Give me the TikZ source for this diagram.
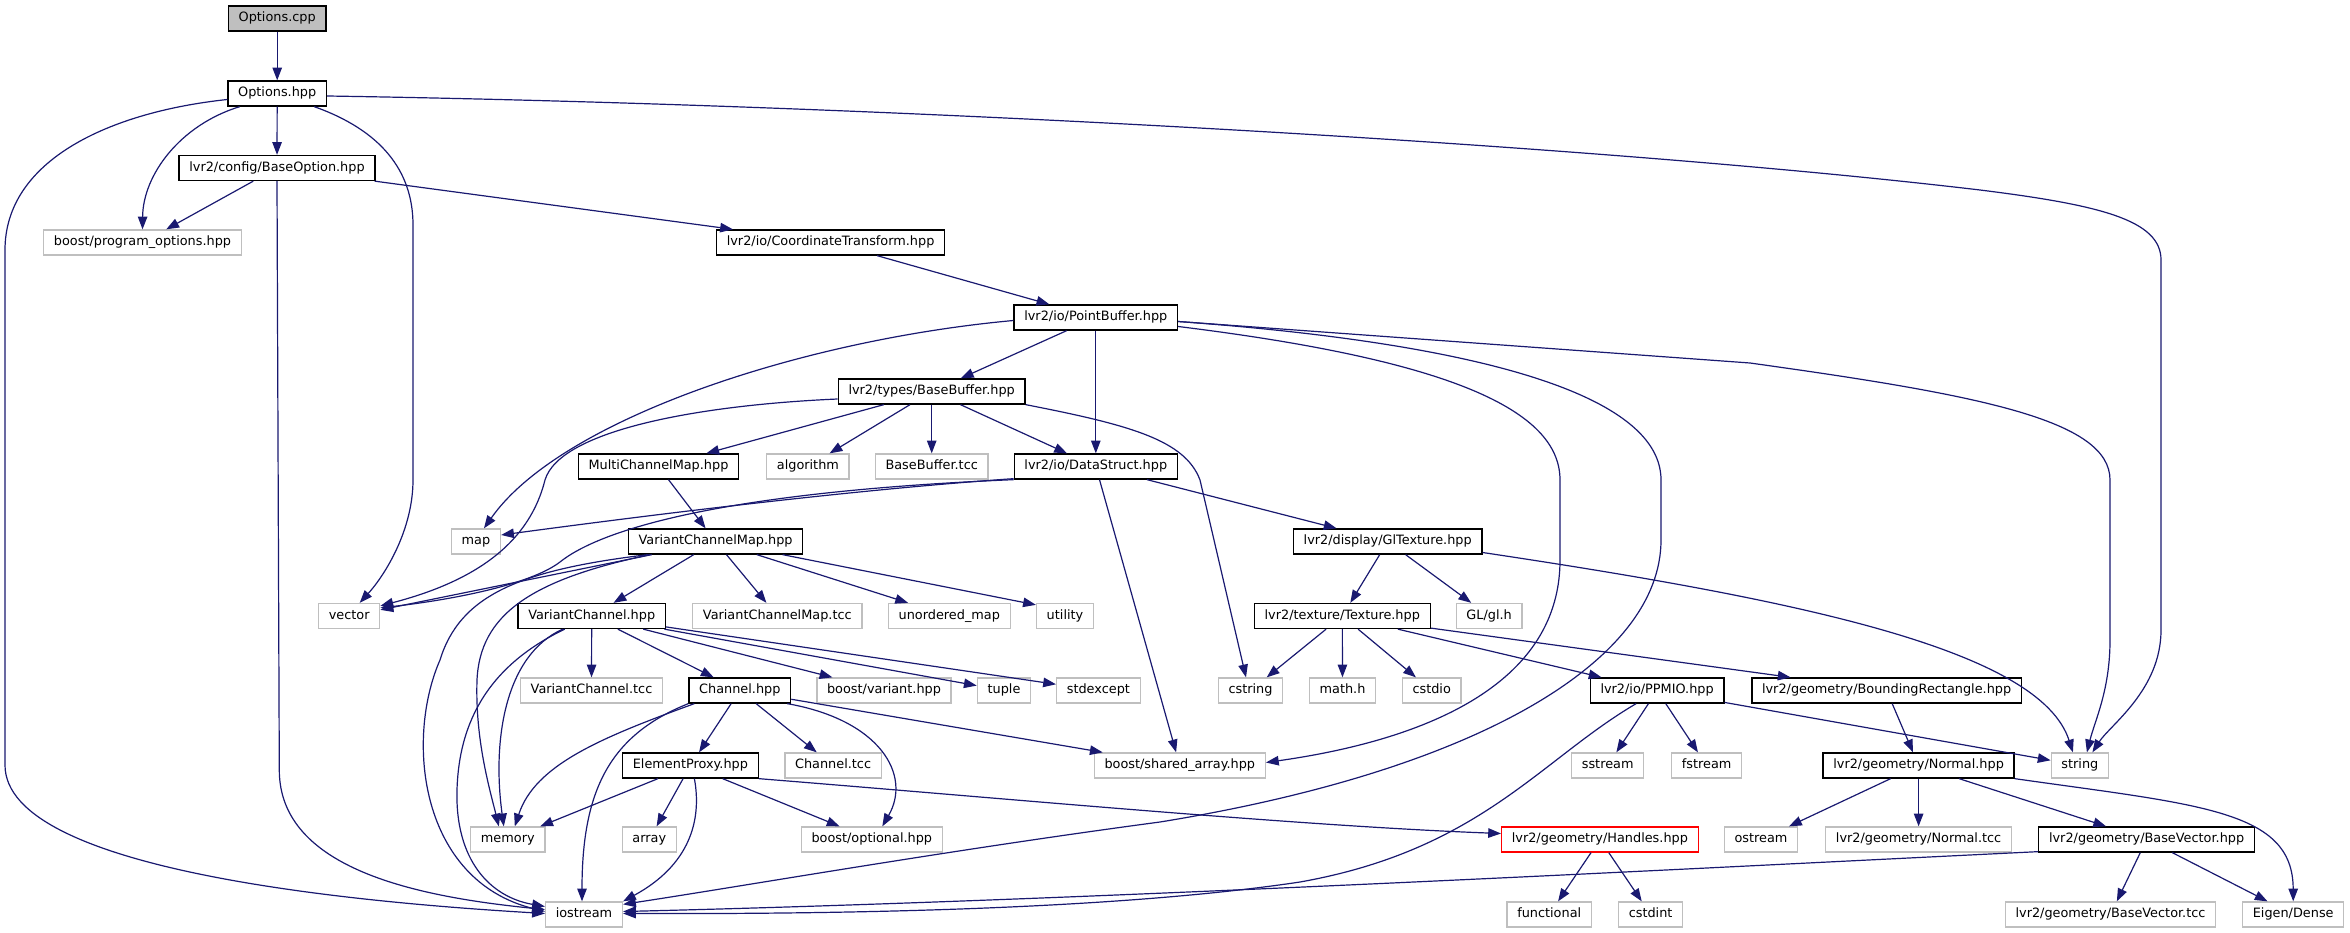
\documentclass[tikz,border=0pt]{standalone}
\usepackage{fontspec}
\setmainfont{DejaVu Sans}
\usetikzlibrary{arrows.meta,calc}
\definecolor{edgecol}{HTML}{191970}
\definecolor{greyb}{HTML}{BFBFBF}
\begin{document}
\begin{tikzpicture}[x=1pt,y=-1pt,
  box/.style={draw=black, fill=white, line width=1.3pt, minimum height=25pt, inner xsep=10.2pt, inner ysep=0pt, text height=9.4pt, text depth=2.6pt, font=\fontsize{12.85pt}{15pt}\selectfont},
  ext/.style={box, draw=greyb},
  rootbox/.style={box, fill=greyb},
  redbox/.style={box, draw=red},
  edge/.style={draw=edgecol, line width=1.2pt, -{Triangle[length=12.8pt,width=9.5pt]}}]
\useasboundingbox (0,0) rectangle (2350,933);
% nodes
\node[rootbox] (cpp) at (277.2,18.5) {Options.cpp};
\node[box] (hpp) at (277.2,93.5) {Options.hpp};
\node[box] (bo) at (277,168) {lvr2/config/BaseOption.hpp};
\node[ext] (po) at (142.5,242.5) {boost/program\_options.hpp};
\node[box] (ct) at (830.6,242.5) {lvr2/io/CoordinateTransform.hpp};
\node[box] (pb) at (1095.8,317.5) {lvr2/io/PointBuffer.hpp};
\node[box] (bb) at (931.7,391.5) {lvr2/types/BaseBuffer.hpp};
\node[box] (mcm) at (658.5,466.5) {MultiChannelMap.hpp};
\node[ext] (alg) at (807.9,466.5) {algorithm};
\node[ext] (bbt) at (931.7,466.5) {BaseBuffer.tcc};
\node[box] (ds) at (1095.8,466.5) {lvr2/io/DataStruct.hpp};
\node[ext] (map) at (476,541.5) {map};
\node[box] (vcm) at (715.6,541.5) {VariantChannelMap.hpp};
\node[box] (gl) at (1387.7,541.5) {lvr2/display/GlTexture.hpp};
\node[ext] (vec) at (349.2,616) {vector};
\node[box] (vc) at (591.7,616) {VariantChannel.hpp};
\node[ext] (vcmt) at (777.3,616) {VariantChannelMap.tcc};
\node[ext] (um) at (949.3,616) {unordered\_map};
\node[ext] (util) at (1065,616) {utility};
\node[box] (tex) at (1342.3,616) {lvr2/texture/Texture.hpp};
\node[ext] (glh) at (1489.1,616) {GL/gl.h};
\node[ext] (vct) at (591.5,690.5) {VariantChannel.tcc};
\node[box] (ch) at (739.8,690.5) {Channel.hpp};
\node[ext] (bvar) at (884,690.5) {boost/variant.hpp};
\node[ext] (tup) at (1004,690.5) {tuple};
\node[ext] (stdx) at (1098.4,690.5) {stdexcept};
\node[ext] (cs) at (1250.5,690.5) {cstring};
\node[ext] (mathh) at (1342.5,690.5) {math.h};
\node[ext] (cstdio) at (1431.7,690.5) {cstdio};
\node[box] (ppm) at (1657.1,690.5) {lvr2/io/PPMIO.hpp};
\node[box] (br) at (1886.6,690.5) {lvr2/geometry/BoundingRectangle.hpp};
\node[box] (ep) at (690.4,765.5) {ElementProxy.hpp};
\node[ext] (cht) at (833.1,765.5) {Channel.tcc};
\node[ext] (sa) at (1179.8,765.5) {boost/shared\_array.hpp};
\node[ext] (ss) at (1607.7,765.5) {sstream};
\node[ext] (fs) at (1706.6,765.5) {fstream};
\node[box] (nor) at (1918.6,765.5) {lvr2/geometry/Normal.hpp};
\node[ext] (str) at (2079.9,765.5) {string};
\node[ext] (mem) at (507.8,839.5) {memory};
\node[ext] (arr) at (649.3,839.5) {array};
\node[ext] (bopt) at (871.8,839.5) {boost/optional.hpp};
\node[redbox] (ha) at (1599.9,839.5) {lvr2/geometry/Handles.hpp};
\node[ext] (ost) at (1761,839.5) {ostream};
\node[ext] (nort) at (1918.6,839.5) {lvr2/geometry/Normal.tcc};
\node[box] (bvec) at (2146.6,839.5) {lvr2/geometry/BaseVector.hpp};
\node[ext] (ios) at (584,914.5) {iostream};
\node[ext] (fun) at (1549.2,914.5) {functional};
\node[ext] (cint) at (1650.6,914.5) {cstdint};
\node[ext] (bvt) at (2110.5,914.5) {lvr2/geometry/BaseVector.tcc};
\node[ext] (ed) at (2293.2,914.5) {Eigen/Dense};
% edges
\draw[edge] (cpp) -- (hpp);
\draw[edge] (hpp) -- (bo);
\draw[edge] ($(hpp.south)+(-37.5,0)$) .. controls (180,125) and (143,175) .. (po.north);
\draw[edge] ($(hpp.west)+(0,6)$) .. controls (110,112) and (5,160) .. (5,250) -- (5,765) .. controls (5,870) and (350,902) .. ($(ios.west)+(0,-1)$);
\draw[edge] ($(hpp.south)+(37,0)$) .. controls (380,130) and (413,170) .. (413,225) -- (413,480) .. controls (413,530) and (385,575) .. ($(vec.north)+(10.5,0)$);
\draw[edge] ($(hpp.east)+(0,2.5)$) .. controls (900,105) and (1600,145) .. (1980,190) .. controls (2100,205) and (2161,220) .. (2161,260) -- (2161,630) .. controls (2161,690) and (2110,725) .. ($(str.north)+(12.5,0)$);
\draw[edge] (bo) -- (po);
\draw[edge] (bo.south) -- (279.3,770) .. controls (279.3,870) and (420,897) .. ($(ios.west)+(0,-5)$);
\draw[edge] (bo) -- (ct);
\draw[edge] (ct) -- (pb);
\draw[edge] (pb) -- (bb);
\draw[edge] (pb) -- (ds);
\draw[edge] ($(pb.west)+(0,3)$) .. controls (800,340) and (560,420) .. ($(map.north)+(8,0)$);
\draw[edge] ($(pb.east)+(0,9)$) .. controls (1450,360) and (1560,410) .. (1560,480) -- (1560,560) .. controls (1560,700) and (1390,745) .. ($(sa.east)+(0,-3)$);
\draw[edge] ($(pb.east)+(0,4)$) .. controls (1500,345) and (1661,400) .. (1661,480) -- (1661,540) .. controls (1661,660) and (1480,770) .. (1160,822) .. controls (950,850) and (750,885) .. ($(ios.north east)+(0,3)$);
\draw[edge] ($(pb.east)+(0,4)$) -- (1750,363) .. controls (1980,395) and (2110,420) .. (2110,480) -- (2110,640) .. controls (2110,690) and (2095,720) .. ($(str.north)+(7,0)$);
\draw[edge] (bb) -- (mcm);
\draw[edge] (bb) -- (alg);
\draw[edge] (bb) -- (bbt);
\draw[edge] (bb) -- (ds);
\draw[edge] ($(bb.west)+(0,7.5)$) .. controls (700,405) and (560,430) .. (545,480) .. controls (530,540) and (480,580) .. ($(vec.north east)+(0,3)$);
\draw[edge] (bb.south east) .. controls (1130,425) and (1185,440) .. (1200,480) -- ($(cs.north)+(-4.5,0)$);
\draw[edge] ($(ds.south west)+(0,-1)$) .. controls (850,490) and (650,515) .. ($(map.east)+(0,-6.5)$);
\draw[edge] (ds.south west) .. controls (720,492) and (600,530) .. (560,562) .. controls (530,585) and (450,600) .. ($(vec.north east)+(0,5)$);
\draw[edge] (ds) -- (gl);
\draw[edge] (ds) -- (sa);
\draw[edge] (mcm) -- (vcm);
\draw[edge] ($(vcm.south west)+(24,0)$) -- ($(vec.north east)+(0,7)$);
\draw[edge] ($(vcm.south west)+(20,0)$) .. controls (520,570) and (460,595) .. (440,660) .. controls (405,740) and (420,880) .. ($(ios.west)+(0,-3)$);
\draw[edge] ($(vcm.south west)+(22,0)$) .. controls (530,580) and (480,615) .. (477,680) .. controls (475,740) and (490,790) .. ($(mem.north)+(-9,0)$);
\draw[edge] (vcm) -- (vc);
\draw[edge] (vcm) -- (vcmt);
\draw[edge] (vcm) -- (um);
\draw[edge] ($(vcm.south)+(67,0)$) -- ($(util.north west)+(0,2)$);
\draw[edge] (vc) -- (vct);
\draw[edge] (vc) -- (ch);
\draw[edge] (vc) -- (bvar);
\draw[edge] (vc) -- (tup);
\draw[edge] (vc) -- (stdx);
\draw[edge] ($(vc.south)+(-29,0)$) .. controls (505,655) and (492,740) .. ($(mem.north)+(-4,0)$);
\draw[edge] ($(vc.south)+(-27,0)$) .. controls (490,665) and (459,720) .. (457,790) .. controls (455,860) and (490,897) .. ($(ios.west)+(0,-8)$);
\draw[edge] (ch) -- (ep);
\draw[edge] (ch) -- (cht);
\draw[edge] ($(ch.south east)+(-4,0)$) .. controls (880,720) and (912,775) .. ($(bopt.north)+(10.5,0)$);
\draw[edge] (ch) -- (sa);
\draw[edge] ($(ch.south west)+(6,0)$) .. controls (600,738) and (535,765) .. ($(mem.north)+(7,0)$);
\draw[edge] (ch.south west) .. controls (610,735) and (582,790) .. ($(ios.north)+(-2,0)$);
\draw[edge] (ep) -- (mem);
\draw[edge] (ep) -- (arr);
\draw[edge] ($(ep.south)+(4,0)$) .. controls (702,820) and (690,865) .. (ios.north east);
\draw[edge] (ep) -- (bopt);
\draw[edge] (ep.south east) .. controls (1000,798) and (1300,826) .. ($(ha.west)+(0,-6)$);
\draw[edge] (gl) -- (tex);
\draw[edge] (gl) -- (glh);
\draw[edge] ($(gl.east)+(0,11)$) .. controls (1800,600) and (2040,650) .. ($(str.north)+(-7,0)$);
\draw[edge] (tex) -- (cs);
\draw[edge] (tex) -- (mathh);
\draw[edge] (tex) -- (cstdio);
\draw[edge] (tex) -- (ppm);
\draw[edge] (tex) -- (br);
\draw[edge] (ppm) -- (ss);
\draw[edge] (ppm) -- (fs);
\draw[edge] (ppm) -- (str);
\draw[edge] ($(ppm.south)+(-21,0)$) .. controls (1540,760) and (1480,850) .. (1300,882) .. controls (1100,912) and (800,914) .. ($(ios.east)+(0,-1)$);
\draw[edge] (br) -- (nor);
\draw[edge] (nor) -- (ost);
\draw[edge] (nor) -- (nort);
\draw[edge] (nor) -- (bvec);
\draw[edge] (nor.south east) .. controls (2200,805) and (2293,810) .. (ed.north);
\draw[edge] (bvec) -- (bvt);
\draw[edge] (bvec) -- (ed);
\draw[edge] ($(bvec.south west)+(0,-1)$) .. controls (1700,868) and (1100,900) .. ($(ios.east)+(0,-3)$);
\draw[edge] (ha) -- (fun);
\draw[edge] (ha) -- (cint);
\end{tikzpicture}
\end{document}
